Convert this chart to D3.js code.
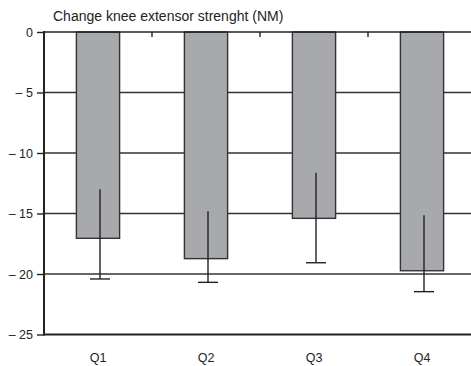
<!DOCTYPE html>
<html>
<head>
<meta charset="utf-8">
<script src="https://cdn.jsdelivr.net/npm/d3@7"></script>
<style>
  html, body { margin: 0; padding: 0; background: #fff; }
  svg { display: block; }
  text { font-family: "Liberation Sans", Arial, Helvetica, sans-serif; fill: #222; }
</style>
</head>
<body>
<svg id="chart" width="471" height="366"></svg>
<script>
const categories = ["Q1", "Q2", "Q3", "Q4"];
const means = [-17.05, -18.73, -15.4, -19.73];
const errLow = [-20.41, -20.69, -19.07, -21.46];
const errHigh = [-13.0, -14.82, -11.63, -15.15];
const yTicks = [0, -5, -10, -15, -20, -25];
const title = "Change knee extensor strenght (NM)";

const svg = d3.select("#chart");
const mLeft = 44, mRight = 476, mTop = 32, mBottom = 334.5;

const x = d3.scaleBand().domain(categories).range([mLeft, mRight])
  .paddingInner(0.6).paddingOuter(0.3);
const xb = d3.scaleBand().domain(categories).range([mLeft, mRight]).padding(0);
const y = d3.scaleLinear().domain([0, -25]).range([mTop, mBottom]);

// gridlines
svg.append("g").selectAll("line").data(yTicks.filter(t => t !== 0 && t !== -25)).join("line")
  .attr("x1", mLeft).attr("x2", 471)
  .attr("y1", d => y(d)).attr("y2", d => y(d))
  .attr("stroke", "#333").attr("stroke-width", 1.4);

// bars
const data = categories.map((c, i) => ({ c, m: means[i], lo: errLow[i], hi: errHigh[i] }));
svg.append("g").selectAll("rect").data(data).join("rect")
  .attr("x", d => x(d.c)).attr("width", x.bandwidth())
  .attr("y", y(0)).attr("height", d => y(d.m) - y(0))
  .attr("fill", "#a8a9ac").attr("stroke", "#333").attr("stroke-width", 1.4);

// error bars
const off = 2, cap = 10;
const eb = svg.append("g").attr("stroke", "#222").attr("stroke-width", 1.4);
eb.selectAll("line.v").data(data).join("line").attr("class", "v")
  .attr("x1", d => x(d.c) + x.bandwidth() / 2 + off).attr("x2", d => x(d.c) + x.bandwidth() / 2 + off)
  .attr("y1", d => y(d.hi)).attr("y2", d => y(d.lo));
eb.selectAll("line.c").data(data).join("line").attr("class", "c")
  .attr("x1", d => x(d.c) + x.bandwidth() / 2 + off - cap).attr("x2", d => x(d.c) + x.bandwidth() / 2 + off + cap)
  .attr("y1", d => y(d.lo)).attr("y2", d => y(d.lo));

// y axis
const yAxis = d3.axisLeft(y).tickValues(yTicks).tickSize(7).tickPadding(4)
  .tickFormat(d => d === 0 ? "0" : "\u2013 " + Math.abs(d));
const ga = svg.append("g").attr("transform", `translate(${mLeft},0)`).call(yAxis);
ga.select(".domain").remove();
ga.selectAll(".tick line").attr("stroke", "#222").attr("stroke-width", 1.4);
ga.selectAll(".tick text").style("font-size", "12.5px").style("font-family", '"Liberation Sans", Arial, sans-serif').attr("fill", "#222");

// axis lines
svg.append("line").attr("x1", mLeft).attr("x2", mLeft).attr("y1", mTop - 1).attr("y2", mBottom + 1)
  .attr("stroke", "#222").attr("stroke-width", 2);
svg.append("line").attr("x1", mLeft).attr("x2", 471).attr("y1", mBottom).attr("y2", mBottom)
  .attr("stroke", "#222").attr("stroke-width", 2);
svg.append("line").attr("x1", mLeft).attr("x2", 471).attr("y1", mTop).attr("y2", mTop)
  .attr("stroke", "#222").attr("stroke-width", 1.6);

// top ticks at category boundaries
svg.append("g").selectAll("line").data(categories.slice(1)).join("line")
  .attr("x1", d => xb(d)).attr("x2", d => xb(d))
  .attr("y1", mTop).attr("y2", mTop + 5)
  .attr("stroke", "#222").attr("stroke-width", 1.4);

// category labels
svg.append("g").selectAll("text").data(categories).join("text")
  .attr("x", d => x(d) + x.bandwidth() / 2).attr("y", 362)
  .attr("text-anchor", "middle").style("font-size", "12.5px").text(d => d);

// title
svg.append("text").attr("x", 53).attr("y", 21).style("font-size", "14px").text(title);
</script>
</body>
</html>
